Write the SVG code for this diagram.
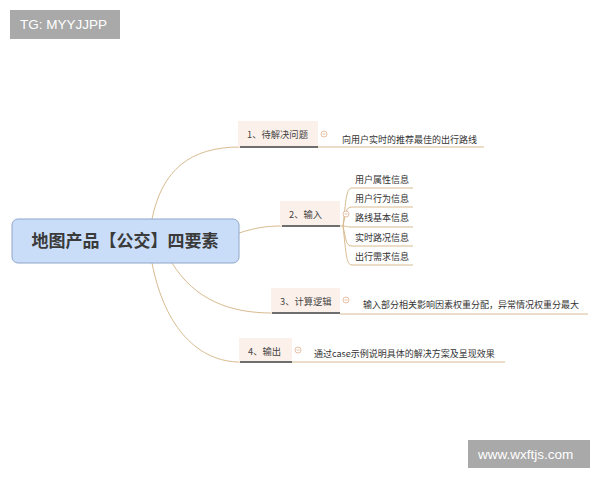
<svg xmlns="http://www.w3.org/2000/svg" width="600" height="480" viewBox="0 0 600 480">
<defs>
<style>
.t{font-family:"Noto Sans CJK SC","Liberation Sans",sans-serif;fill:#333;font-size:9px}
.b{font-family:"Noto Sans CJK SC","Liberation Sans",sans-serif;fill:#444;font-size:9.3px}
.wm{font-family:"Liberation Sans",sans-serif;fill:#fff;font-size:13.5px}
.box{fill:#fcf0ea}
.ul{stroke:#6e6e6e;stroke-width:2}
.ln{fill:none;stroke:#d8bb90;stroke-width:1}
.cc{fill:#fff;stroke:#e0b090;stroke-width:0.8}
.cm{stroke:#e0b090;stroke-width:0.8}
</style>
</defs>
<rect width="600" height="480" fill="#fff"/>
<g id="watermark-top">
<rect x="10" y="10" width="110" height="29" fill="#a9a9a9"/>
<text class="wm" x="20" y="29">TG: MYYJJPP</text>
</g>
<g id="connectors">
<path class="ln" d="M152,219 C162,170 190,147 240,147"/>
<path class="ln" d="M239,233 C255,228 265,226 282,226"/>
<path class="ln" d="M172,263 C195,300 230,313 272,313"/>
<path class="ln" d="M152,263 C165,330 200,362 240,362"/>
<path class="ln" d="M318,147 L484,147"/>
<path class="ln" d="M340,314 L588,314"/>
<path class="ln" d="M292,362 L505,362"/>
<path class="ln" d="M340,226 L343,226"/>
<path class="ln" d="M343,226 C346,200 346,188 352,188 L413,188"/>
<path class="ln" d="M343,226 C346,212 346,207 352,207 L413,207"/>
<path class="ln" d="M343,226 C346,226 346,227 352,227 L413,227"/>
<path class="ln" d="M343,226 C346,240 346,246 352,246 L413,246"/>
<path class="ln" d="M343,226 C346,252 346,265 352,265 L413,265"/>
</g>
<g id="root">
<rect x="12" y="219" width="227" height="44" rx="6" fill="#c9ddf9" stroke="#8ea6c9" stroke-width="1"/>
<text x="125" y="247" text-anchor="middle" font-family="Noto Sans CJK SC,sans-serif" font-weight="bold" font-size="17" fill="#3a3a3a">地图产品【公交】四要素</text>
</g>
<g id="n1">
<rect class="box" x="238" y="121" width="80" height="26"/>
<line class="ul" x1="240" y1="147" x2="318" y2="147"/>
<text class="b" x="247" y="138">1、待解决问题</text>
<circle class="cc" cx="324" cy="134" r="3"/><line class="cm" x1="322.5" y1="134" x2="325.5" y2="134"/>
</g>
<g id="n1a"><text class="t" x="342" y="143">向用户实时的推荐最佳的出行路线</text></g>
<g id="n2">
<rect class="box" x="280" y="201" width="60" height="25"/>
<line class="ul" x1="282" y1="226" x2="340" y2="226"/>
<text class="b" x="289" y="218">2、输入</text>
<circle class="cc" cx="346" cy="214" r="3"/><line class="cm" x1="344.5" y1="214" x2="347.5" y2="214"/>
</g>
<g id="n2a"><text class="t" x="355" y="183">用户属性信息</text></g>
<g id="n2b"><text class="t" x="355" y="202">用户行为信息</text></g>
<g id="n2c"><text class="t" x="355" y="221">路线基本信息</text></g>
<g id="n2d"><text class="t" x="355" y="241">实时路况信息</text></g>
<g id="n2e"><text class="t" x="355" y="260">出行需求信息</text></g>
<g id="n3">
<rect class="box" x="271" y="288" width="69" height="25"/>
<line class="ul" x1="272" y1="313" x2="340" y2="313"/>
<text class="b" x="280" y="305">3、计算逻辑</text>
<circle class="cc" cx="346" cy="300" r="3"/><line class="cm" x1="344.5" y1="300" x2="347.5" y2="300"/>
</g>
<g id="n3a"><text class="t" x="363" y="308">输入部分相关影响因素权重分配，异常情况权重分最大</text></g>
<g id="n4">
<rect class="box" x="239" y="338" width="53" height="24"/>
<line class="ul" x1="240" y1="362" x2="292" y2="362"/>
<text class="b" x="248" y="355">4、输出</text>
<circle class="cc" cx="298" cy="350" r="3"/><line class="cm" x1="296.5" y1="350" x2="299.5" y2="350"/>
</g>
<g id="n4a"><text class="t" x="314" y="357">通过case示例说明具体的解决方案及呈现效果</text></g>
<g id="watermark-bottom">
<rect x="468" y="440" width="122" height="28" fill="#a9a9a9"/>
<text class="wm" x="478" y="459">www.wxftjs.com</text>
</g>
</svg>
